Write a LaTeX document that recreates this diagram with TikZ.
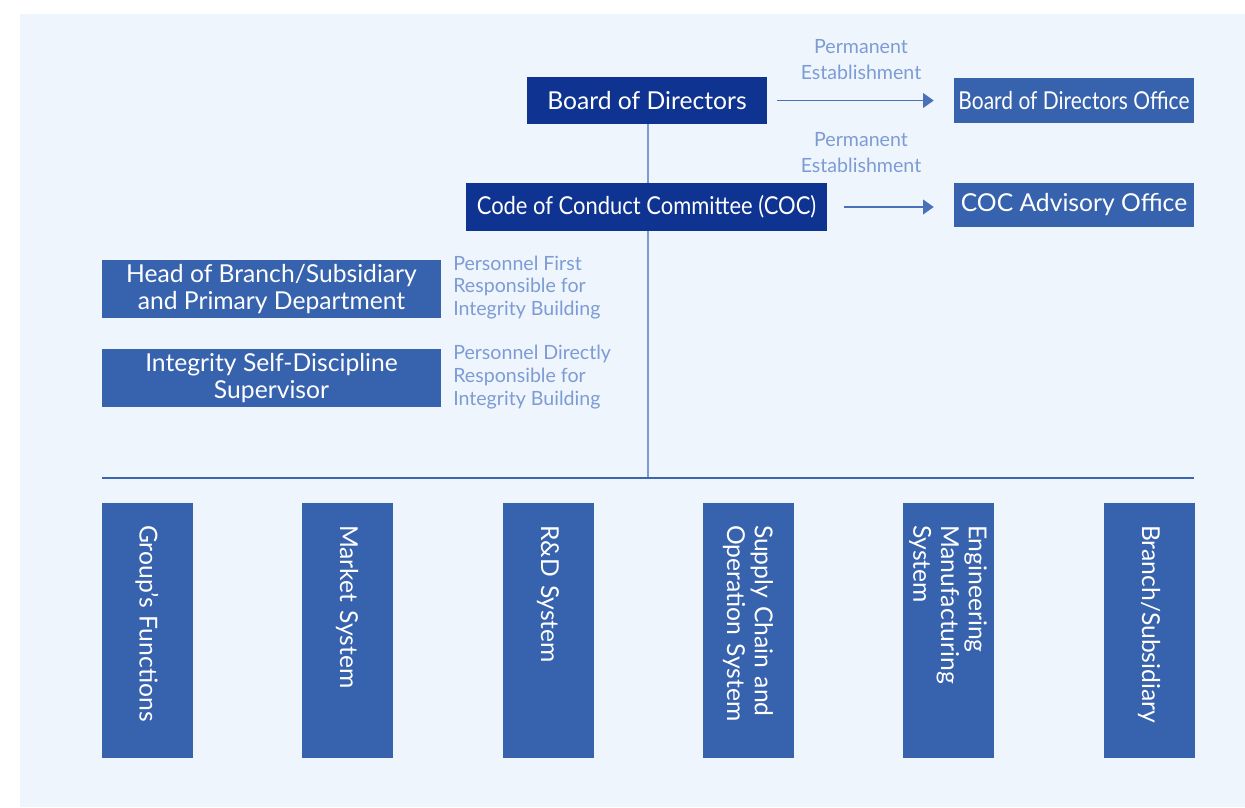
\documentclass[tikz,border=0pt]{standalone}
\usepackage{fontspec}
\setmainfont{Lato}
\usetikzlibrary{arrows.meta}
\definecolor{bg}{HTML}{EEF5FD}
\definecolor{navy}{HTML}{0E3390}
\definecolor{mid}{HTML}{3762AD}
\definecolor{lbl}{HTML}{7D9BD4}
\definecolor{vline}{HTML}{7C9CD5}
\definecolor{hline}{HTML}{3B65B1}
\definecolor{arrc}{HTML}{4A70B8}
\pgfdeclarelayer{bgfill}
\pgfdeclarelayer{lines}
\pgfsetlayers{bgfill,lines,main}
\tikzset{
  navybox/.style={fill=navy, text=white, inner sep=0pt, font=\fontsize{18.5}{20.5}\selectfont, align=center},
  midbox/.style={fill=mid, text=white, inner sep=0pt, font=\fontsize{18.5}{20.5}\selectfont, align=center},
  vbox/.style={fill=mid, text=white, rotate=-90, minimum width=191.25pt, minimum height=68.25pt,
    text width=158.25pt, inner xsep=16.5pt, inner ysep=0pt, align=left, font=\fontsize{18.5}{20.8}\selectfont},
  lbl/.style={text=lbl, inner sep=0pt, font=\fontsize{14.7}{19.5}\selectfont, align=center},
  plbl/.style={text=lbl, inner sep=0pt, font=\fontsize{14.7}{17}\selectfont, align=left, anchor=west},
  arr/.style={draw=arrc, line width=1.2pt, -{Triangle[length=8pt,width=11pt]}},
  vln/.style={draw=vline, line width=1.5pt},
  hln/.style={draw=hline, line width=1.5pt}
}
\begin{document}
\begin{tikzpicture}[x=0.75pt,y=-0.75pt]
\useasboundingbox (0,0) rectangle (1245,807);
\begin{pgfonlayer}{bgfill}
\fill[bg] (20,14) rectangle (1245,807);
\end{pgfonlayer}

\node[navybox, minimum width=180pt, minimum height=35.25pt] (bod) at (647,100.5) {Board of Directors};
\node[midbox, minimum width=180pt, minimum height=33.75pt] (bodo) at (1074,100.5) {\scalebox{0.85}[1]{Board of Directors Office}};
\node[navybox, minimum width=270.75pt, minimum height=36pt] (coc) at (646.5,207) {\scalebox{0.89}[1]{Code of Conduct Committee (COC)}};
\node[midbox, minimum width=180pt, minimum height=33pt] (coca) at (1074,205) {COC Advisory Office};
\node[midbox, minimum width=254.25pt, minimum height=43.5pt] (head) at (271.5,289) {Head of Branch/Subsidiary\\and Primary Department};
\node[midbox, minimum width=254.25pt, minimum height=43.5pt] (integ) at (271.5,378) {Integrity Self-Discipline\\Supervisor};

\node[lbl] (pe1) at (861,60) {Permanent\\Establishment};
\node[lbl] (pe2) at (861,153) {Permanent\\Establishment};
\node[plbl] (pf) at (453,287.5) {Personnel First\\Responsible for\\Integrity Building};
\node[plbl] (pd) at (453,377) {Personnel Directly\\Responsible for\\Integrity Building};

\node[vbox] (g1) at (147,630.5) {Group's Functions};
\node[vbox] (g2) at (347,630.5) {Market System};
\node[vbox] (g3) at (548,630.5) {R\&D System};
\node[vbox] (g4) at (748,630.5) {Supply Chain and\\Operation System};
\node[vbox] (g5) at (948,630.5) {Engineering\\Manufacturing\\System};
\node[vbox] (g6) at (1149,630.5) {Branch/Subsidiary};

\coordinate (hub) at (648,478);
\coordinate (hl) at (102,478);
\coordinate (hr) at (1194,478);

\begin{pgfonlayer}{lines}
\draw[vln] (bod.south -| hub) -- (hub);
\draw[hln] (hl) -- (hr);
\end{pgfonlayer}

\draw[arr, shorten <=7.5pt, shorten >=15pt] (bod.east) -- (bodo.west);
\draw[arr, shorten <=12.75pt, shorten >=15pt] (coc.east) -- (coc.east -| coca.west);
\end{tikzpicture}
\end{document}
